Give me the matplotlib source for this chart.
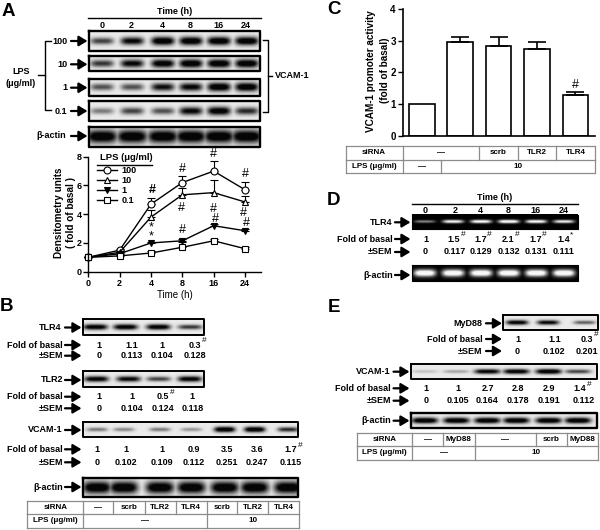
import numpy as np
import matplotlib
matplotlib.use('Agg')
import matplotlib.pyplot as plt
from matplotlib.lines import Line2D

plt.rcParams['font.family'] = ['Liberation Sans', 'DejaVu Sans']
plt.rcParams['font.weight'] = 'bold'

# Panel A line chart
time_labels = ['0', '2', '4', '8', '16', '24']
lps_100 = [1, 1.5, 4.7, 6.2, 7.0, 5.7]
lps_100_err = [0, 0.1, 0.45, 0.45, 0.7, 0.55]
lps_10 = [1, 1.35, 3.8, 5.35, 5.5, 4.85]
lps_10_err = [0, 0.1, 0.5, 0.45, 0.9, 0.4]
lps_1 = [1, 1.25, 2.0, 2.15, 3.2, 2.85]
lps_1_err = [0, 0.05, 0.1, 0.15, 0.15, 0.1]
lps_01 = [1, 1.1, 1.3, 1.7, 2.15, 1.6]
lps_01_err = [0, 0.05, 0.15, 0.35, 0.15, 0.1]
hash_x = [3, 4, 5, 2.96, 3.98, 4.95, 3, 4.05, 5.05]
hash_y = [7.14, 8.17, 6.77, 4.45, 4.34, 4.06, 2.9, 3.67, 3.36]
star_y = [3.06, 2.48]

# Panel C bars
promoter = [1, 2.95, 2.83, 2.75, 1.3]
promoter_err = [0, 0.17, 0.28, 0.22, 0.1]

# Blot band strengths, one per lane
a_100 = [0.6, 0.85, 1, 1, 1, 1]
a_10 = [0.65, 0.85, 0.95, 1, 1, 1]
a_1 = [0.55, 0.55, 0.8, 0.85, 1, 1]
a_01 = [0.4, 0.6, 0.55, 0.85, 0.95, 0.7]
a_actin = [1, 1, 1, 1, 1, 1]
b_tlr4 = [0.95, 0.95, 0.95, 0.65]
b_tlr2 = [0.9, 0.85, 0.6, 0.9]
b_vcam = [0.4, 0.35, 0.4, 0.3, 1, 1, 0.7]
b_actin = [1, 1, 1, 1, 1, 1, 1]
d_tlr4 = [0.45, 0.85, 0.9, 0.95, 0.9, 0.8]
d_actin = [1, 1, 1, 1, 1, 1]
e_myd88 = [0.9, 0.85, 0.5]
e_vcam = [0.15, 0.25, 0.9, 0.95, 1, 0.6]
e_actin = [1, 1, 1, 1, 1, 1]

# Fold / SEM rows
b_tlr4_fold = ['1', '1.1', '1', '0.3#']
b_tlr4_sem = ['0', '0.113', '0.104', '0.128']
b_tlr2_fold = ['1', '1', '0.5#', '1']
b_tlr2_sem = ['0', '0.104', '0.124', '0.118']
b_vcam_fold = ['1', '1', '1', '0.9', '3.5', '3.6', '1.7#']
b_vcam_sem = ['0', '0.102', '0.109', '0.112', '0.251', '0.247', '0.115']
d_fold = ['1', '1.5#', '1.7#', '2.1#', '1.7#', '1.4*']
d_sem = ['0', '0.117', '0.129', '0.132', '0.131', '0.111']
e_myd88_fold = ['1', '1.1', '0.3#']
e_myd88_sem = ['0', '0.102', '0.201']
e_vcam_fold = ['1', '1', '2.7', '2.8', '2.9', '1.4#']
e_vcam_sem = ['0', '0.105', '0.164', '0.178', '0.191', '0.112']

fig = plt.figure(figsize=(6, 5.3), dpi=100)
bg = fig.add_axes([0, 0, 1, 1])
bg.axis('off')


def label(x, y, s, ha='center', size=6.5, **kw):
    bg.text(x, y, s, ha=ha, va='center', fontsize=size, **kw)


def arrow(x0, x1, y):
    bg.annotate('', xy=(x1, y), xytext=(x0, y),
                arrowprops=dict(arrowstyle='-|>,head_width=0.3,head_length=0.5', lw=1.6,
                                color='k', shrinkA=0, shrinkB=0, mutation_scale=10))


def blot(x0, y0, x1, y1, lanes, strength, band_w, band_h, dark=False, frame=1.4):
    # soft bands on a plain background
    nx, ny = int((x1 - x0) * 3), int((y1 - y0) * 3)
    xx, yy = np.meshgrid(np.linspace(x0, x1, nx), np.linspace(y0, y1, ny))
    cy = (y0 + y1) / 2
    ink = np.zeros_like(xx)
    for cx, s in zip(lanes, strength):
        h = band_h * (0.55 + 0.45 * s)
        ink = np.maximum(ink, s * np.exp(-((xx - cx) / band_w) ** 4 - ((yy - cy) / h) ** 2))
    ink = np.clip(ink * 1.25, 0, 1)
    img = ink * 0.97 if dark else 0.9 * (1 - ink) + 0.02
    bg.imshow(img, cmap='gray', vmin=0, vmax=1, extent=(x0, x1, y1, y0), aspect='auto',
              interpolation='bilinear', zorder=1)
    bg.plot([x0, x1, x1, x0, x0], [y0, y0, y1, y1, y0], color='k', lw=frame, zorder=2)


def values(xs, y, vals, size=6.5):
    for x, v in zip(xs, vals):
        mark = v[-1] if v[-1] in '#*' else ''
        txt = v.rstrip('#*')
        bg.text(x, y, txt, ha='center', va='center', fontsize=size)
        if mark:
            bg.text(x + 2.6 * len(txt) - 1, y - 4, mark, ha='left', va='center', fontsize=6, fontweight='normal')


def table(xs, ys, row1, row2):
    # row entries are (first column, last column, text)
    c = '#8c8c8c'
    bg.plot([xs[0], xs[-1]], [ys[0], ys[0]], color=c, lw=0.9)
    bg.plot([xs[0], xs[-1]], [ys[1], ys[1]], color=c, lw=0.9)
    bg.plot([xs[0], xs[-1]], [ys[2], ys[2]], color=c, lw=0.9)
    for row, ya, yb in ((row1, ys[0], ys[1]), (row2, ys[1], ys[2])):
        bg.plot([xs[0], xs[0]], [ya, yb], color=c, lw=0.9)
        for a, b, s in row:
            bg.plot([xs[b], xs[b]], [ya, yb], color=c, lw=0.9)
            bg.text((xs[a] + xs[b]) / 2, (ya + yb) / 2, s, ha='center', va='center', fontsize=5.8)


# ---- Panel A
label(8.3, 11, 'A', size=13.5)
label(174.7, 12, 'Time (h)', size=6.5)
bg.plot([87.5, 260.5], [18, 18], color='k', lw=1)
a_lanes = [101.7, 131.7, 162.3, 190.3, 218.3, 246]
for x, t in zip(a_lanes, time_labels):
    label(x, 25.3, t)
a_rows = [(30.7, 50.7, 41, '100', a_100), (56, 70.7, 64.3, '10', a_10),
          (78.7, 96, 87.7, '1', a_1), (101.3, 120.7, 111, '0.1', a_01)]
for y0, y1, ym, s, vals in a_rows:
    blot(88.7, y0, 260, y1, a_lanes, vals, 11.5, 4.2, frame=1.7)
    label(67.7, ym, s, ha='right')
    arrow(71, 87.5, ym)
blot(88.7, 126.7, 260, 147.3, a_lanes, a_actin, 15, 6.5, frame=1.7)
label(66, 136, 'β-actin', ha='right')
arrow(71, 87.5, 136)
bg.plot([51, 44.5, 44.5, 51], [40.7, 40.7, 110, 110], color='k', lw=1)
bg.plot([44.5, 38], [75, 75], color='k', lw=1)
label(21, 71, 'LPS')
label(21, 83, '(μg/ml)')
bg.plot([263, 267.5, 267.5, 263], [40, 40, 111.7, 111.7], color='k', lw=1)
bg.plot([267.5, 272], [76, 76], color='k', lw=1)
label(275, 76, 'VCAM-1', ha='left')
label(59, 213, 'Densitometry units', size=7.2, rotation=90)
label(71, 213, '( fold of basal )', size=7.2, rotation=90)
label(100, 157.7, 'LPS (μg/ml)', ha='left', size=6.8)
bg.plot([97, 152], [165, 165], color='k', lw=1)

# ---- Panel B
label(6.7, 306.7, 'B', size=13.5)
b4_x = [95, 125, 157.7, 189.3]
blot(82.7, 319.3, 204, 335, b4_x, b_tlr4, 12, 2.8)
label(61, 327.5, 'TLR4', ha='right')
arrow(65, 81.5, 327.5)
label(63, 345, 'Fold of basal', ha='right')
arrow(65, 81.5, 345)
label(63, 355.7, '±SEM', ha='right')
arrow(65, 81.5, 355.7)
values([99.3, 131.7, 162, 195], 345, b_tlr4_fold)
values([99.3, 131.7, 162, 195], 355.7, b_tlr4_sem)

b2_x = [96, 128, 158, 189]
blot(82.7, 370.7, 204, 386.7, b2_x, b_tlr2, 12, 3)
label(63, 380, 'TLR2', ha='right')
arrow(65, 81.5, 380)
label(63, 396.7, 'Fold of basal', ha='right')
arrow(65, 81.5, 396.7)
label(63, 408.3, '±SEM', ha='right')
arrow(65, 81.5, 408.3)
values([99.3, 132.3, 163, 192.3], 396.7, b_tlr2_fold)
values([99.3, 132.3, 163, 192.3], 408.3, b_tlr2_sem)

bv_x = [96.7, 123.3, 159.3, 190.7, 224, 254, 287.3]
blot(82.7, 422.3, 298, 437.3, bv_x, b_vcam, 10.5, 2.8)
label(63, 430, 'VCAM-1', ha='right')
arrow(65, 81.5, 430)
label(63, 449.3, 'Fold of basal', ha='right')
arrow(65, 81.5, 449.3)
label(63, 462.3, '±SEM', ha='right')
arrow(65, 81.5, 462.3)
b_val_x = [96.7, 126, 162.3, 194, 226.7, 256.7, 290.7]
values(b_val_x, 449.3, b_vcam_fold)
values(b_val_x, 462.3, b_vcam_sem)

blot(82.7, 478.3, 298, 496.7, bv_x, b_actin, 14, 6, frame=1.7)
label(63, 487, 'β-actin', ha='right')
arrow(65, 81.5, 487)
table(np.array([82, 250, 340, 435, 527, 620, 712, 805, 897]) / 3, [501, 514.3, 527.7],
      [(0, 1, 'siRNA'), (1, 2, '—'), (2, 3, 'scrb'), (3, 4, 'TLR2'), (4, 5, 'TLR4'),
       (5, 6, 'scrb'), (6, 7, 'TLR2'), (7, 8, 'TLR4')],
      [(0, 1, 'LPS (μg/ml)'), (1, 5, '—'), (5, 8, '10')])

# ---- Panel C
label(334, 10, 'C', size=13.5)
table(310 + np.array([107, 278, 393, 508, 623, 739, 855]) / 3, [146, 160, 173.3],
      [(0, 1, 'siRNA'), (1, 3, '—'), (3, 4, 'scrb'), (4, 5, 'TLR2'), (5, 6, 'TLR4')],
      [(0, 1, 'LPS (μg/ml)'), (1, 2, '—'), (2, 6, '10')])
label(371, 71, 'VCAM-1 promoter activity', size=7.2, rotation=90)
label(385, 70, '(fold of basal)', size=7.2, rotation=90)

# ---- Panel D
label(334, 200.7, 'D', size=13.5)
label(495, 197, 'Time (h)')
bg.plot([411.7, 578.3], [204, 204], color='k', lw=1)
d_tick_x = 310 + np.array([345, 435, 511, 594, 678, 760]) / 3
for x, t in zip(d_tick_x, time_labels):
    label(x, 210.7, t)
d_lanes = 310 + np.array([345, 430, 514, 597, 680, 763]) / 3
blot(412.3, 215, 578.3, 229.3, d_lanes, d_tlr4, 10.5, 1.7, dark=True, frame=0.8)
label(392.7, 222.3, 'TLR4', ha='right')
arrow(395, 410.5, 222.3)
label(392.7, 239, 'Fold of basal', ha='right')
arrow(395, 410.5, 239)
label(392.7, 252, '±SEM', ha='right')
arrow(395, 410.5, 252)
values(310 + np.array([347, 432, 512, 594, 676, 760]) / 3, 239, d_fold)
values(310 + np.array([345, 435, 513, 596, 678, 760]) / 3, 252, d_sem)
blot(412.3, 265, 578.3, 280.7, d_lanes, d_actin, 11, 3.5, dark=True, frame=0.8)
label(392.7, 275, 'β-actin', ha='right')
arrow(395, 410.5, 275)

# ---- Panel E
label(334, 307.5, 'E', size=13.5)
e1_x = 310 + np.array([622, 715, 825]) / 3
blot(503.3, 315, 598.3, 330, e1_x, e_myd88, 11, 2.5)
label(482.7, 323.3, 'MyD88', ha='right')
arrow(486, 502, 323.3)
label(482.7, 339, 'Fold of basal', ha='right')
arrow(486, 502, 339)
label(482.7, 351, '±SEM', ha='right')
arrow(486, 502, 351)
values(310 + np.array([623, 733, 832]) / 3, 339, e_myd88_fold)
values(310 + np.array([622, 732, 830]) / 3, 351, e_myd88_sem)

e2_x = 310 + np.array([345, 440, 533, 620, 717, 805]) / 3
blot(411.3, 364.3, 597.3, 379, e2_x, e_vcam, 13, 2.5)
label(391, 371.7, 'VCAM-1', ha='right')
arrow(393.5, 409.5, 371.7)
label(391, 388.3, 'Fold of basal', ha='right')
arrow(393.5, 409.5, 388.3)
label(391, 400.7, '±SEM', ha='right')
arrow(393.5, 409.5, 400.7)
values(310 + np.array([347, 445, 535, 623, 717, 810]) / 3, 388.3, e_vcam_fold)
values(310 + np.array([347, 445, 532, 623, 717, 820]) / 3, 400.7, e_vcam_sem)
blot(411.3, 413.3, 597.3, 428.3, e2_x, e_actin, 13, 3, frame=1.7)
label(391, 420.7, 'β-actin', ha='right')
arrow(393.5, 409.5, 420.7)
table(310 + np.array([140, 307, 398, 494, 677, 770, 863]) / 3, [433, 446.3, 459.7],
      [(0, 1, 'siRNA'), (1, 2, '—'), (2, 3, 'MyD88'), (3, 4, '—'), (4, 5, 'scrb'), (5, 6, 'MyD88')],
      [(0, 1, 'LPS (μg/ml)'), (1, 3, '—'), (3, 6, '10')])

bg.set_xlim(0, 600)
bg.set_ylim(530, 0)

# ---- Line chart in panel A
W, H = 600.0, 530.0
ax = fig.add_axes([88.3 / W, 1 - 271.7 / H, (260.7 - 88.3) / W, 115 / H])
ax.patch.set_alpha(0)
x = np.arange(6)
series = [(lps_100, lps_100_err, 'o', 'white', '100'), (lps_10, lps_10_err, '^', 'white', '10'),
          (lps_1, lps_1_err, 'v', 'k', '1'), (lps_01, lps_01_err, 's', 'white', '0.1')]
handles = []
for vals, err, mk, fc, name in series:
    ax.errorbar(x, vals, yerr=[np.zeros(6), err], color='k', lw=1, capsize=3, capthick=0.8, elinewidth=0.8,
                marker=mk, ms=5, mfc=fc, mec='k', mew=0.8, clip_on=False)
    handles.append(Line2D([], [], color='k', lw=1, marker=mk, ms=5, mfc=fc, mec='k', mew=0.8, label=name))
ax.set_xlim(0, 5.5)
ax.set_ylim(0, 8)
ax.set_xticks(x)
ax.set_xticklabels(time_labels)
ax.set_yticks([0, 2, 4, 6, 8])
ax.tick_params(labelsize=6.5, length=3.5, width=1, pad=1.5)
for s in ('top', 'right'):
    ax.spines[s].set_visible(False)
for s in ('left', 'bottom'):
    ax.spines[s].set_linewidth(1)
ax.set_xlabel('Time (h)', fontsize=7, labelpad=2)
ax.legend(handles=handles, loc='upper left', bbox_to_anchor=(0.05, 0.915), frameon=False,
          fontsize=6.5, labelspacing=0.1, handlelength=2.2, handletextpad=0.5,
          borderpad=0, borderaxespad=0)
for hx, hy in zip(hash_x, hash_y):
    ax.text(hx, hy, '#', ha='center', va='center', fontsize=9, fontweight='normal', clip_on=False)
ax.text(2.03, 5.68, '#', ha='center', va='center', fontsize=9, clip_on=False)
for sy in star_y:
    ax.text(2, sy, '*', ha='center', va='center', fontsize=9, fontweight='normal')

# ---- Bar chart in panel C
ax2 = fig.add_axes([402.7 / W, 1 - 136 / H, (595 - 402.7) / W, 127 / H])
ax2.patch.set_alpha(0)
pos = np.arange(5)
ax2.bar(pos, promoter, width=0.665, color='white', edgecolor='k', lw=1.2)
ax2.errorbar(pos[1:], promoter[1:], yerr=[np.zeros(4), promoter_err[1:]], fmt='none', ecolor='k', elinewidth=1.2,
             capsize=6.5, capthick=1.2)
ax2.set_xlim(-0.495, 4.508)
ax2.set_ylim(0, 4)
ax2.set_xticks([])
ax2.set_yticks([0, 1, 2, 3, 4])
ax2.tick_params(labelsize=7, length=3.5, width=1, pad=1.5)
for s in ('top', 'right'):
    ax2.spines[s].set_visible(False)
for s in ('left', 'bottom'):
    ax2.spines[s].set_linewidth(1.2)
ax2.text(4, 1.42, '#', ha='center', va='bottom', fontsize=9, fontweight='normal')

fig.savefig('out.png', dpi=100)
